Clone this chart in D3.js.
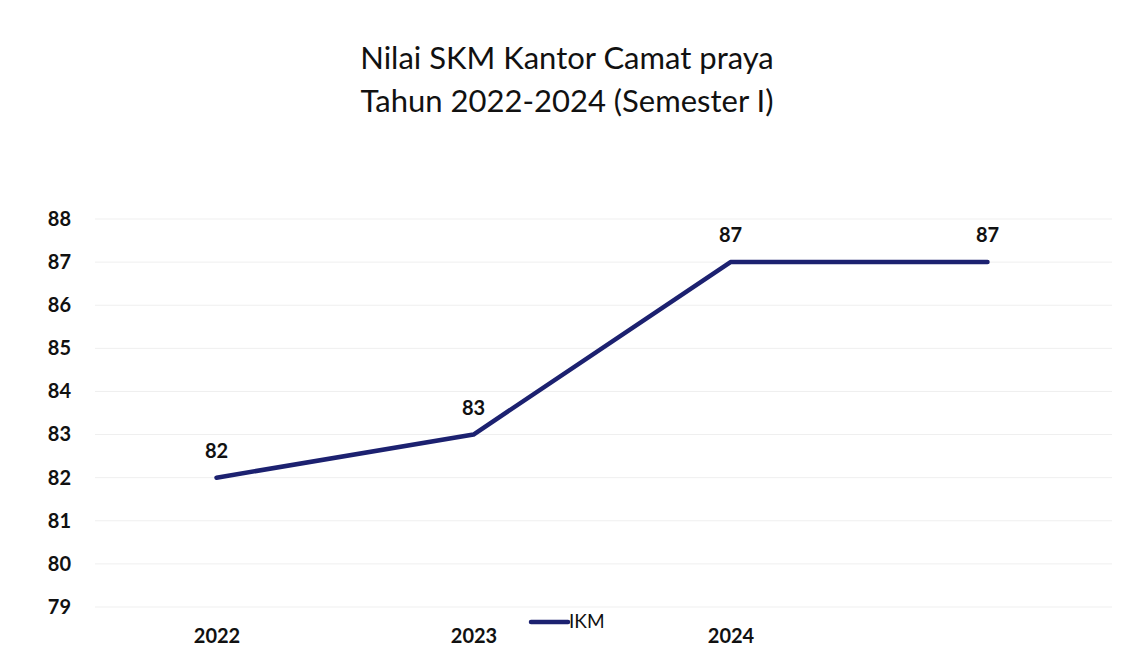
<!DOCTYPE html>
<html>
<head>
<meta charset="utf-8">
<script src="https://cdn.jsdelivr.net/npm/d3@7"></script>
<style>
  html, body { margin: 0; padding: 0; background: #fff; }
  svg { display: block; font-family: Lato, 'Open Sans', sans-serif; }
</style>
</head>
<body>
<svg id="chart" width="1130" height="659"></svg>
<script>
const categories = ['2022', '2023', '2024', ''];
const ikmValues = [82, 83, 87, 87];
const yTicks = [79, 80, 81, 82, 83, 84, 85, 86, 87, 88];
const titleLines = ['Nilai SKM Kantor Camat praya', 'Tahun 2022-2024 (Semester I)'];
const seriesName = 'IKM';

const svg = d3.select('#chart');
const W = 1130;
const LINE_COLOUR = '#1c2170';

const X_SCALE = d3.scalePoint()
    .domain(d3.range(categories.length))
    .range([88, 1116])
    .padding(0.5);

const Y_SCALE = d3.scaleLinear()
    .domain([79, 88])
    .range([607, 219]);

// title
svg.append('g')
    .selectAll('text')
    .data(titleLines)
    .join('text')
    .attr('x', W / 2 + 2)
    .attr('y', (d, i) => 69 + i * 43)
    .attr('text-anchor', 'middle')
    .style('font-size', '31px')
    .style('fill', '#111')
    .text(d => d);

// faint gridlines
svg.append('g')
    .selectAll('line')
    .data(yTicks)
    .join('line')
    .attr('x1', 95)
    .attr('x2', 1112)
    .attr('y1', d => Y_SCALE(d))
    .attr('y2', d => Y_SCALE(d))
    .attr('stroke', '#efefef')
    .attr('stroke-width', 1);

// y axis labels
const yAxis = svg.append('g')
    .attr('transform', 'translate(71,0)')
    .call(d3.axisLeft(Y_SCALE).tickValues(yTicks).tickSize(0).tickPadding(0));
yAxis.select('.domain').remove();
yAxis.selectAll('text')
    .style('font-family', 'Lato, sans-serif')
    .style('font-size', '20px')
    .style('font-weight', '700')
    .style('fill', '#111');

// x axis labels
const xAxis = svg.append('g')
    .attr('transform', 'translate(0,629)')
    .call(d3.axisBottom(X_SCALE).tickFormat(i => categories[i]).tickSize(0).tickPadding(0));
xAxis.select('.domain').remove();
xAxis.selectAll('text')
    .style('font-family', 'Lato, sans-serif')
    .style('font-size', '20px')
    .style('font-weight', '700')
    .style('fill', '#111');

// line
const line = d3.line()
    .x((d, i) => X_SCALE(i))
    .y(d => Y_SCALE(d));

svg.append('path')
    .datum(ikmValues)
    .attr('d', line)
    .attr('fill', 'none')
    .attr('stroke', LINE_COLOUR)
    .attr('stroke-width', 4.5)
    .attr('stroke-linejoin', 'round')
    .attr('stroke-linecap', 'round');

// data labels
svg.append('g')
    .selectAll('text')
    .data(ikmValues)
    .join('text')
    .attr('x', (d, i) => X_SCALE(i))
    .attr('y', d => Y_SCALE(d) - 20)
    .attr('text-anchor', 'middle')
    .style('font-size', '20px')
    .style('font-weight', '700')
    .style('fill', '#111')
    .text(d => d);

// legend
const legend = svg.append('g').attr('transform', 'translate(531,622)');
legend.append('line')
    .attr('x1', 0).attr('x2', 37)
    .attr('stroke', LINE_COLOUR)
    .attr('stroke-width', 4.5)
    .attr('stroke-linecap', 'round');
legend.append('text')
    .attr('x', 38)
    .attr('y', 6)
    .style('font-size', '19px')
    .style('fill', '#111')
    .text(seriesName);
</script>
</body>
</html>
